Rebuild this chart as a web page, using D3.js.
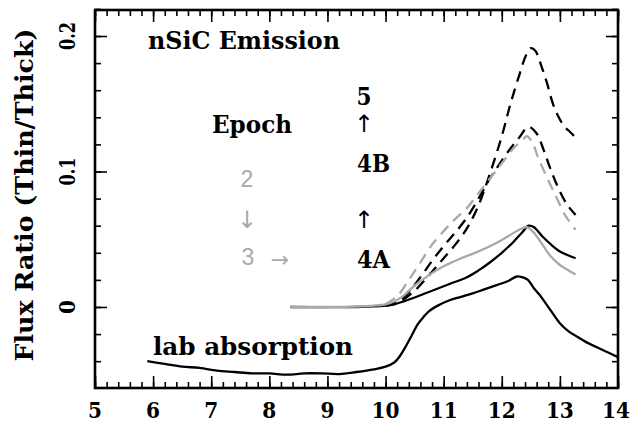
<!DOCTYPE html>
<html><head><meta charset="utf-8">
<script src="https://cdn.jsdelivr.net/npm/d3@7"></script>
<style>body{margin:0;background:#fff}svg{display:block}</style>
</head><body><svg id="c" width="634" height="426"></svg>
<script>
// ---- data ----
const xTicks = [5,6,7,8,9,10,11,12,13,14];
const yTicks = [0, 0.1, 0.2];
const yTickLabels = ["0", "0.1", "0.2"];
const labAbsorption = [[5.9,-0.040],[6.2,-0.042],[6.5,-0.044],[6.8,-0.045],[7.1,-0.047],[7.4,-0.048],[7.7,-0.049],[8.0,-0.049],[8.3,-0.050],[8.6,-0.049],[8.9,-0.049],[9.2,-0.0495],[9.5,-0.048],[9.8,-0.046],[10.0,-0.044],[10.15,-0.041],[10.25,-0.036],[10.35,-0.029],[10.45,-0.021],[10.55,-0.013],[10.65,-0.0075],[10.75,-0.003],[10.9,0.001],[11.1,0.005],[11.3,0.0075],[11.5,0.010],[11.7,0.013],[11.9,0.016],[12.1,0.019],[12.26,0.0225],[12.35,0.022],[12.45,0.020],[12.55,0.014],[12.65,0.009],[12.75,0.003],[12.85,-0.003],[13.0,-0.012],[13.15,-0.018],[13.3,-0.022],[13.5,-0.027],[13.7,-0.031],[13.85,-0.034],[14.0,-0.037]];
const epoch2 = [[10.0,0.002],[10.2,0.008],[10.4,0.020],[10.6,0.033],[10.8,0.046],[11.0,0.056],[11.2,0.065],[11.4,0.073],[11.6,0.084],[11.8,0.095],[12.0,0.106],[12.2,0.117],[12.35,0.123],[12.43,0.126],[12.52,0.122],[12.62,0.111],[12.72,0.101],[12.85,0.089],[12.95,0.080],[13.1,0.067],[13.27,0.057]];
const epoch3 = [[8.36,0],[9.0,0],[9.5,0.0003],[9.8,0.001],[10.0,0.002],[10.15,0.004],[10.3,0.008],[10.45,0.014],[10.6,0.019],[10.8,0.025],[11.0,0.030],[11.3,0.036],[11.6,0.041],[11.9,0.047],[12.1,0.052],[12.3,0.057],[12.43,0.059],[12.55,0.055],[12.7,0.046],[12.85,0.037],[13.0,0.031],[13.15,0.027],[13.27,0.024]];
const epoch4A = [[8.36,0],[9.5,0],[10.0,0.001],[10.15,0.002],[10.3,0.004],[10.5,0.007],[10.8,0.012],[11.1,0.017],[11.4,0.022],[11.6,0.027],[11.8,0.033],[12.0,0.040],[12.2,0.048],[12.35,0.055],[12.46,0.060],[12.55,0.059],[12.7,0.052],[12.85,0.046],[13.0,0.041],[13.15,0.038],[13.27,0.036]];
const epoch4B = [[10.0,0.001],[10.2,0.004],[10.4,0.011],[10.6,0.022],[10.8,0.034],[11.0,0.045],[11.2,0.055],[11.4,0.066],[11.6,0.080],[11.8,0.095],[12.0,0.108],[12.15,0.117],[12.3,0.125],[12.46,0.133],[12.6,0.128],[12.72,0.116],[12.82,0.104],[12.92,0.093],[13.05,0.081],[13.15,0.074],[13.27,0.068]];
const epoch5 = [[10.0,0.001],[10.2,0.003],[10.5,0.012],[10.8,0.026],[11.0,0.036],[11.2,0.046],[11.4,0.058],[11.6,0.075],[11.8,0.099],[12.0,0.126],[12.15,0.150],[12.3,0.171],[12.42,0.186],[12.5,0.191],[12.58,0.189],[12.68,0.178],[12.78,0.165],[12.88,0.150],[12.98,0.140],[13.08,0.133],[13.18,0.129],[13.27,0.125]];

// ---- layout ----
const svg = d3.select("#c");
const L=95, R=618, T=10, B=388;
const x = d3.scaleLinear().domain([5,14]).range([L,R]);
const y = d3.scaleLinear().domain([-0.0598,0.2192]).range([B,T]);
const FONT = "'DejaVu Serif'";
const GRAY = "#a9a9a9";

const minorX = d3.range(5,14.001,0.2);
const minorY = d3.range(-0.04,0.2201,0.02);

function tickAxis(axisFn, scale, vals, size, tr){
  svg.append("g").attr("transform",tr)
    .call(axisFn(scale).tickValues(vals).tickSize(-size).tickFormat(""))
    .call(g=>g.select(".domain").remove())
    .call(g=>g.selectAll("line").attr("stroke","#000").attr("stroke-width",1.6));
}
tickAxis(d3.axisBottom, x, minorX, 6, `translate(0,${B})`);
tickAxis(d3.axisBottom, x, xTicks, 12, `translate(0,${B})`);
tickAxis(d3.axisTop, x, minorX, 6, `translate(0,${T})`);
tickAxis(d3.axisTop, x, xTicks, 12, `translate(0,${T})`);
tickAxis(d3.axisLeft, y, minorY, 6, `translate(${L},0)`);
tickAxis(d3.axisLeft, y, yTicks, 12, `translate(${L},0)`);
tickAxis(d3.axisRight, y, minorY, 6, `translate(${R},0)`);
tickAxis(d3.axisRight, y, yTicks, 12, `translate(${R},0)`);

svg.append("rect").attr("x",L).attr("y",T).attr("width",R-L).attr("height",B-T)
  .attr("fill","none").attr("stroke","#000").attr("stroke-width",2.6);

// tick labels (last one nudged so it stays inside the canvas)
svg.append("g").selectAll("text").data(xTicks).join("text")
  .attr("x",d=>Math.min(x(d), 634-18)).attr("y",418).attr("text-anchor","middle")
  .style("font-family",FONT).attr("font-weight","bold").attr("font-size",23)
  .attr("textLength",d=>d>=10?28:14).attr("lengthAdjust","spacingAndGlyphs")
  .text(d=>d);
svg.append("g").selectAll("text").data(yTicks).join("text")
  .attr("transform",(d)=>`translate(75,${y(d)}) rotate(-90)`)
  .attr("text-anchor","middle")
  .style("font-family",FONT).attr("font-weight","bold").attr("font-size",23)
  .attr("textLength",(d,i)=>yTickLabels[i].length>1?28:14).attr("lengthAdjust","spacingAndGlyphs")
  .text((d,i)=>yTickLabels[i]);
svg.append("text").attr("transform","translate(33,195) rotate(-90)")
  .attr("text-anchor","middle").style("font-family",FONT).attr("font-weight","bold")
  .attr("font-size",24).attr("textLength",333).attr("lengthAdjust","spacingAndGlyphs")
  .text("Flux Ratio (Thin/Thick)");

// curves
const line = d3.line().x(d=>x(d[0])).y(d=>y(d[1])).curve(d3.curveCatmullRom);
const series = [
  {d:labAbsorption, c:"#000", dash:null},
  {d:epoch5, c:"#000", dash:"11 7"},
  {d:epoch4B, c:"#000", dash:"11 7"},
  {d:epoch2, c:GRAY, dash:"11 7"},
  {d:epoch4A, c:"#000", dash:null},
  {d:epoch3, c:GRAY, dash:null},
];
series.forEach(s=>{
  svg.append("path").datum(s.d).attr("d",line).attr("fill","none")
    .attr("stroke",s.c).attr("stroke-width",2.3)
    .attr("stroke-dasharray",s.dash).attr("stroke-linejoin","round");
});

// annotations
function txt(t,xx,yy,opt={}){
  const e = svg.append("text").attr("x",xx).attr("y",yy)
    .style("font-family",opt.font||FONT).attr("font-weight",opt.weight||"bold")
    .attr("font-size",opt.size||24).attr("fill",opt.fill||"#000")
    .attr("text-anchor",opt.anchor||"start").text(t);
  if(opt.len) e.attr("textLength",opt.len).attr("lengthAdjust","spacingAndGlyphs");
  return e;
}
txt("nSiC Emission",148,49,{len:192});
txt("Epoch",212,133,{len:80});
txt("lab absorption",153,355,{len:200});
txt("5",364,105,{anchor:"middle",len:15});
txt("↑",364,132,{anchor:"middle",size:24,font:"'DejaVu Sans'",weight:"normal"});
txt("4B",357,172,{len:33});
txt("↑",364,228,{anchor:"middle",size:24,font:"'DejaVu Sans'",weight:"normal"});
txt("4A",357,268,{len:33});
txt("2",247,187,{anchor:"middle",fill:GRAY,weight:"normal",font:"'Liberation Sans'",size:23});
txt("↓",247,228,{anchor:"middle",fill:GRAY,size:24,font:"'DejaVu Sans'",weight:"normal"});
txt("3",248,265,{anchor:"middle",fill:GRAY,weight:"normal",font:"'Liberation Sans'",size:23});
txt("→",280,267,{anchor:"middle",fill:GRAY,size:22,font:"'DejaVu Sans'",weight:"normal"});
</script></body></html>
